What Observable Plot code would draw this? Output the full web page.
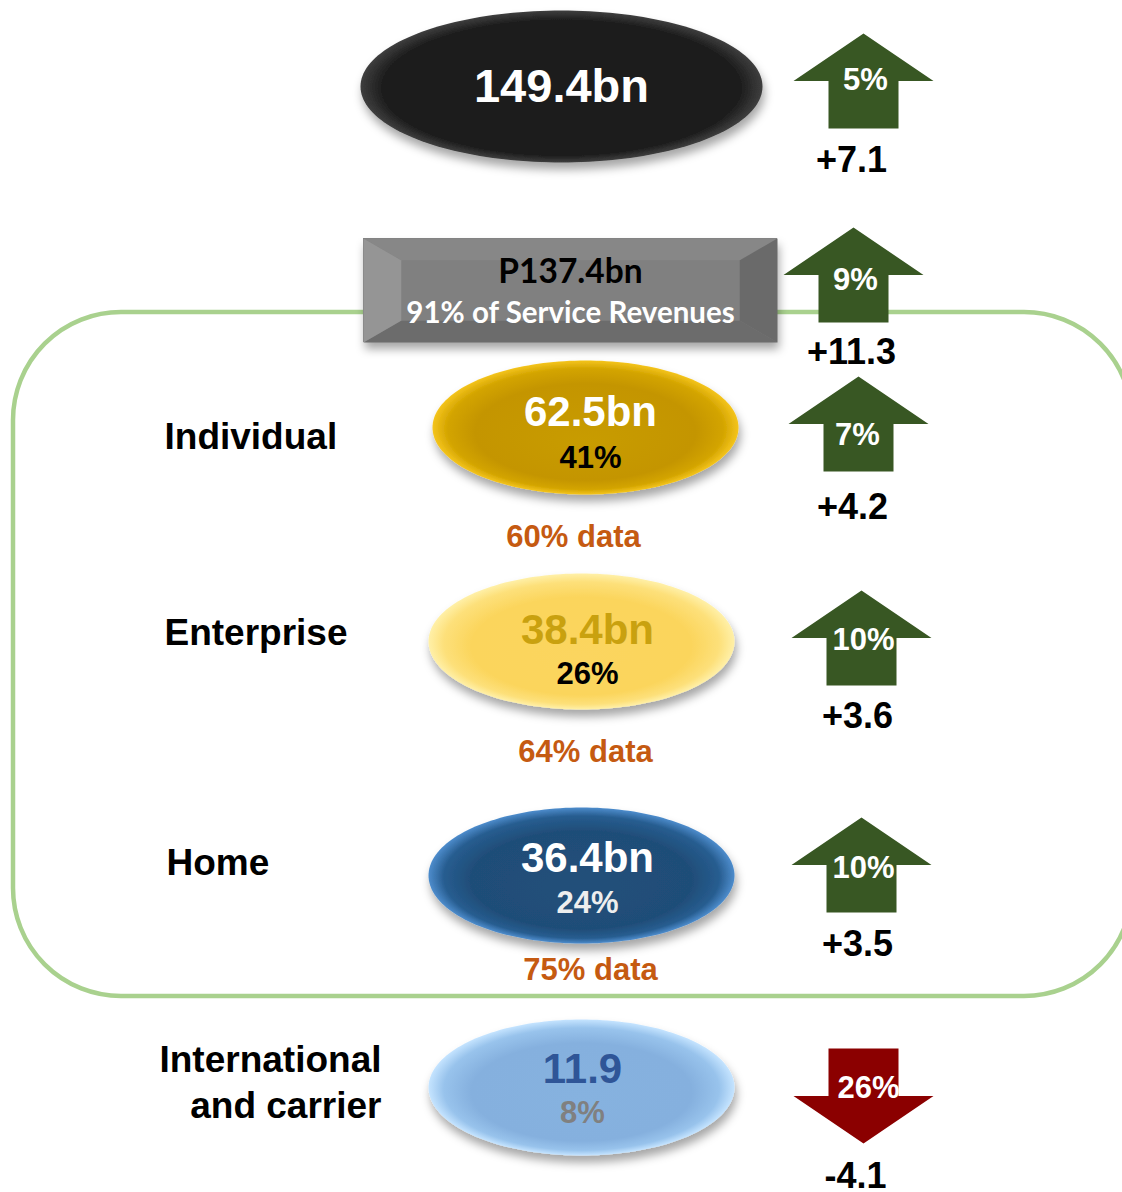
<!DOCTYPE html>
<html>
<head>
<meta charset="utf-8">
<script src="https://cdn.jsdelivr.net/npm/d3@7"></script>
<script src="https://cdn.jsdelivr.net/npm/@observablehq/plot@0.6"></script>
<style>
  html, body { margin: 0; padding: 0; background: #ffffff; overflow: hidden; }
  #chart svg { display: block; overflow: hidden; }
</style>
</head>
<body>
<div id="chart"></div>
<script>
// ---------------- DATA ----------------
const segments = ["Total revenues", "Service revenues", "Individual", "Enterprise", "Home", "International\nand carrier"];
const revenueLabels = ["149.4bn", "P137.4bn", "62.5bn", "38.4bn", "36.4bn", "11.9"];
const shareLabels = ["", "91% of Service Revenues", "41%", "26%", "24%", "8%"];
const growthPctLabels = ["5%", "9%", "7%", "10%", "10%", "26%"];
const growthAbsLabels = ["+7.1", "+11.3", "+4.2", "+3.6", "+3.5", "-4.1"];
const dataShareLabels = ["", "", "60% data", "64% data", "75% data", ""];
const directions = ["up", "up", "up", "up", "up", "down"];
const showSegmentLabel = [false, false, true, true, true, true];

// ---------------- LAYOUT & STYLE (positions in pixel space) ----------------
const layout = [
  {shape: "ellipse", cx: 561, cy: 86, rx: 201, ry: 76, grad: "gBlack",
   valX: 561, valY: 86, valFs: 47, valFill: "#ffffff",
   shareX: 561, shareY: 130, shareFs: 31, shareFill: "#000000",
   labX: 0, labY: 0, labAnchor: "start", dataX: 0, dataY: 0,
   arX: 863, arY: 80.5, pctX: 865, pctY: 80, absX: 851, absY: 160},
  {shape: "box", x1: 363, x2: 777, y1: 238, y2: 342,
   valX: 570, valY: 272, valFs: 33.5, valFill: "#000000",
   shareX: 570, shareY: 313, shareFs: 29.5, shareFill: "#ffffff",
   labX: 0, labY: 0, labAnchor: "start", dataX: 0, dataY: 0,
   arX: 853, arY: 274.5, pctX: 855, pctY: 280, absX: 851, absY: 352},
  {shape: "ellipse", cx: 585, cy: 427, rx: 153, ry: 67, grad: "gGold",
   valX: 590, valY: 412, valFs: 42, valFill: "#ffffff",
   shareX: 590, shareY: 458, shareFs: 31, shareFill: "#000000",
   labX: 164, labY: 437, labAnchor: "start", dataX: 573, dataY: 537,
   arX: 858, arY: 423.5, pctX: 857, pctY: 435, absX: 852, absY: 507},
  {shape: "ellipse", cx: 581, cy: 641, rx: 153, ry: 68, grad: "gYellow",
   valX: 587, valY: 630, valFs: 42, valFill: "#c9a10f",
   shareX: 587, shareY: 674, shareFs: 31, shareFill: "#000000",
   labX: 164, labY: 633, labAnchor: "start", dataX: 585, dataY: 752,
   arX: 861, arY: 637.5, pctX: 863, pctY: 640, absX: 857, absY: 716},
  {shape: "ellipse", cx: 581, cy: 875, rx: 153, ry: 68, grad: "gNavy",
   valX: 587, valY: 858, valFs: 42, valFill: "#ffffff",
   shareX: 587, shareY: 903, shareFs: 31, shareFill: "#eeeeee",
   labX: 166, labY: 863, labAnchor: "start", dataX: 590, dataY: 970,
   arX: 861, arY: 864.5, pctX: 863, pctY: 868, absX: 857, absY: 944},
  {shape: "ellipse", cx: 581, cy: 1087, rx: 153, ry: 68, grad: "gSky",
   valX: 582, valY: 1069, valFs: 42, valFill: "#2f5597",
   shareX: 582, shareY: 1113, shareFs: 31, shareFill: "#808080",
   labX: 381, labY: 1080, labAnchor: "end", dataX: 0, dataY: 0,
   arX: 863, arY: 1095.5, pctX: 868, pctY: 1088, absX: 855, absY: 1176}
];
const frame = {x1: 13, x2: 1132, y1: 312, y2: 996};
const bevel = {dx: 38, dy: 22};
const upColor = "#385723";
const downColor = "#8b0000";
const dataColor = "#c55a11";
const frameColor = "#a9d18e";
const ARIAL = "'Liberation Sans', Arial, Helvetica, sans-serif";
const BOXFONT = "Lato, 'Open Sans', sans-serif";

// ---------------- BUILD ----------------
const rows = segments.map((segment, i) => ({
  segment, revenue: revenueLabels[i], share: shareLabels[i],
  pct: growthPctLabels[i], abs: growthAbsLabels[i], dataShare: dataShareLabels[i],
  direction: directions[i], showLabel: showSegmentLabel[i], ...layout[i]
}));

function ellipsePoints(d) {
  return d3.range(0, 181).map(k => {
    const t = (k / 180) * 2 * Math.PI;
    return {x: d.cx + d.rx * Math.cos(t), y: d.cy + d.ry * Math.sin(t)};
  });
}

function arrowSymbol(dir) {
  return {
    draw(ctx, size) {
      const k = Math.sqrt(size / Math.PI) / 10;
      const s = dir === "up" ? 1 : -1;
      ctx.moveTo(0, -47.5 * k * s);
      ctx.lineTo(70 * k, 0);
      ctx.lineTo(35 * k, 0);
      ctx.lineTo(35 * k, 47.5 * k * s);
      ctx.lineTo(-35 * k, 47.5 * k * s);
      ctx.lineTo(-35 * k, 0);
      ctx.lineTo(-70 * k, 0);
      ctx.closePath();
    }
  };
}

const marks = [];

// green rounded frame
marks.push(Plot.rect([frame], {x1: "x1", x2: "x2", y1: "y1", y2: "y2", rx: 108,
  fill: "none", stroke: frameColor, strokeWidth: 4.5}));

// ellipses
rows.filter(d => d.shape === "ellipse").forEach(d => {
  marks.push(Plot.line(ellipsePoints(d), {x: "x", y: "y", fill: `url(#${d.grad})`, stroke: "none"}));
});

// beveled box
const box = rows.find(d => d.shape === "box");
const ix1 = box.x1 + bevel.dx, ix2 = box.x2 - bevel.dx, iy1 = box.y1 + bevel.dy, iy2 = box.y2 - bevel.dy;
marks.push(Plot.rect([box], {x1: "x1", x2: "x2", y1: "y1", y2: "y2", fill: "url(#gBoxShadow)"}));
const bevelPolys = [
  {fill: "#878787", pts: [[box.x1, box.y1], [box.x2, box.y1], [ix2, iy1], [ix1, iy1]]},
  {fill: "#6c6c6c", pts: [[box.x1, box.y2], [box.x2, box.y2], [ix2, iy2], [ix1, iy2]]},
  {fill: "#959595", pts: [[box.x1, box.y1], [ix1, iy1], [ix1, iy2], [box.x1, box.y2]]},
  {fill: "#6a6a6a", pts: [[box.x2, box.y1], [ix2, iy1], [ix2, iy2], [box.x2, box.y2]]},
  {fill: "#808080", pts: [[ix1, iy1], [ix2, iy1], [ix2, iy2], [ix1, iy2]]}
];
bevelPolys.forEach(p => {
  marks.push(Plot.line(p.pts.map(([x, y]) => ({x, y})), {x: "x", y: "y", fill: p.fill, stroke: "none"}));
});

// arrows
marks.push(Plot.dot(rows.filter(d => d.direction === "up"), {x: "arX", y: "arY", r: 10,
  symbol: arrowSymbol("up"), fill: upColor, stroke: "none"}));
marks.push(Plot.dot(rows.filter(d => d.direction === "down"), {x: "arX", y: "arY", r: 10,
  symbol: arrowSymbol("down"), fill: downColor, stroke: "none"}));

// texts: ellipse values & shares
const ell = rows.filter(d => d.shape === "ellipse");
marks.push(Plot.text(ell, {x: "valX", y: "valY", text: "revenue", fontSize: d => d.valFs,
  fontWeight: "bold", fill: d => d.valFill, fontFamily: ARIAL}));
marks.push(Plot.text(ell.filter(d => d.share), {x: "shareX", y: "shareY", text: "share", fontSize: d => d.shareFs,
  fontWeight: "bold", fill: d => d.shareFill, fontFamily: ARIAL}));
// box texts
marks.push(Plot.text([box], {x: "valX", y: "valY", text: "revenue", fontSize: box.valFs,
  fontWeight: "bold", fill: box.valFill, fontFamily: BOXFONT}));
marks.push(Plot.text([box], {x: "shareX", y: "shareY", text: "share", fontSize: box.shareFs,
  fontWeight: "bold", fill: box.shareFill, fontFamily: BOXFONT}));
// segment labels
marks.push(Plot.text(rows.filter(d => d.showLabel && d.labAnchor === "start"), {x: "labX", y: "labY", text: "segment",
  textAnchor: "start", fontSize: 37, fontWeight: "bold", fill: "#000000", fontFamily: ARIAL}));
marks.push(Plot.text(rows.filter(d => d.showLabel && d.labAnchor === "end"), {x: "labX", y: "labY", text: "segment",
  textAnchor: "end", lineHeight: 1.22, fontSize: 37, fontWeight: "bold", fill: "#000000", fontFamily: ARIAL}));
// data share
marks.push(Plot.text(rows.filter(d => d.dataShare), {x: "dataX", y: "dataY", text: "dataShare",
  fontSize: 31, fontWeight: "bold", fill: dataColor, fontFamily: ARIAL}));
// growth pct in arrows
marks.push(Plot.text(rows, {x: "pctX", y: "pctY", text: "pct",
  fontSize: 31, fontWeight: "bold", fill: "#ffffff", fontFamily: ARIAL}));
// growth abs
marks.push(Plot.text(rows, {x: "absX", y: "absY", text: "abs",
  fontSize: 36, fontWeight: "bold", fill: "#000000", fontFamily: ARIAL}));

const svg = Plot.plot({
  width: 1122,
  height: 1192,
  margin: 0,
  x: {domain: [0, 1122], range: [0, 1122], axis: null},
  y: {domain: [0, 1192], range: [0, 1192], axis: null},
  color: {type: "identity"},
  style: {background: "#ffffff", fontFamily: ARIAL, overflow: "hidden"},
  marks
});

// ---------------- DEFS: gradients & shadows ----------------
const s = d3.select(svg);
const defs = s.insert("defs", ":first-child");
const shadow = defs.append("filter").attr("id", "shadow")
  .attr("x", "-20%").attr("y", "-20%").attr("width", "140%").attr("height", "150%");
shadow.append("feDropShadow").attr("dx", 2).attr("dy", 7).attr("stdDeviation", 5)
  .attr("flood-color", "#000000").attr("flood-opacity", 0.35);

function radial(id, stops, fy) {
  const g = defs.append("radialGradient").attr("id", id)
    .attr("cx", "50%").attr("cy", "50%").attr("r", "50%").attr("fx", "50%").attr("fy", fy);
  stops.forEach(([o, c]) => g.append("stop").attr("offset", o).attr("stop-color", c));
}
radial("gBlack", [[0, "#1a1a1a"], [0.88, "#1a1a1a"], [1, "#3e3e3e"]], "58%");
radial("gGold", [[0, "#c89c06"], [0.72, "#c49500"], [0.9, "#d3a400"], [1, "#f4c41c"]], "62%");
radial("gYellow", [[0, "#fbd55e"], [0.72, "#fbd55c"], [0.9, "#fde07a"], [1, "#fff0a8"]], "62%");
radial("gNavy", [[0, "#22507a"], [0.72, "#1f4d78"], [0.9, "#275d90"], [1, "#4d8ccc"]], "62%");
radial("gSky", [[0, "#86b2df"], [0.72, "#85b0de"], [0.9, "#98c3ec"], [1, "#c5e4ff"]], "62%");
const lg = defs.append("linearGradient").attr("id", "gBoxShadow").attr("x1", 0).attr("y1", 0).attr("x2", 0).attr("y2", 1);
lg.append("stop").attr("offset", 0).attr("stop-color", "#7f7f7f");
lg.append("stop").attr("offset", 1).attr("stop-color", "#7f7f7f");

s.selectAll("g[fill^='url(#g']").attr("filter", "url(#shadow)");

document.getElementById("chart").appendChild(svg);
</script>
</body>
</html>
